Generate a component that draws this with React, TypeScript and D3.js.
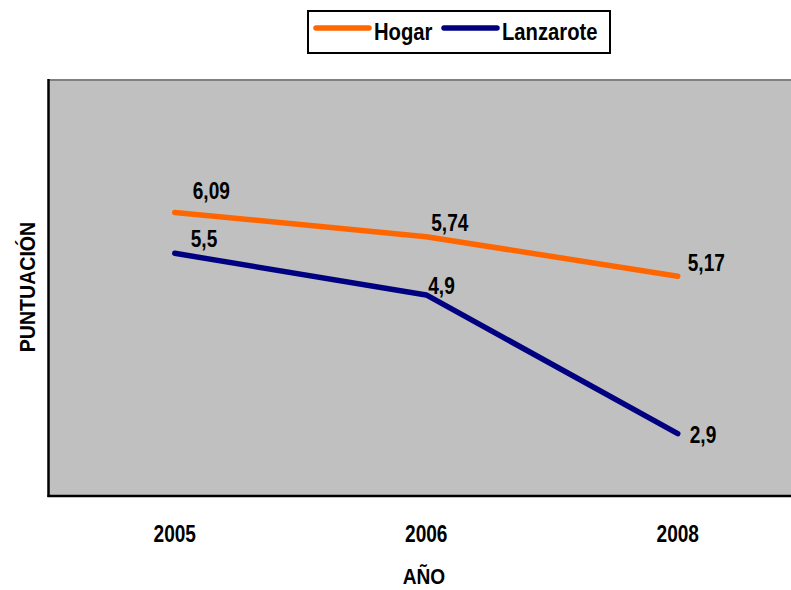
import React from 'react';
import * as d3 from 'd3';

const years = ['2005', '2006', '2008'];
const hogar = [6.09, 5.74, 5.17];
const lanzarote = [5.5, 4.9, 2.9];
const hogarLabels = ['6,09', '5,74', '5,17'];
const lanzaroteLabels = ['5,5', '4,9', '2,9'];
// small nudges of the value labels, as in the original
const hogarNudge = [[18, -13], [5, -6], [10, -5]];
const lanzaroteNudge = [[16, -6], [2, -1], [12, 9]];

const W = 791;
const H = 590;
const plot = { left: 49, top: 80, right: 803.5, bottom: 496 };
const font = '"Liberation Sans", Arial, sans-serif';

// condensed bold text (no narrow font installed, so squeeze it)
const NText = ({ x, y, size = 23, sx = 0.83, anchor = 'start', rotate = 0, children }: any) => (
  <text transform={`translate(${x},${y}) rotate(${rotate}) scale(${sx},1)`} textAnchor={anchor}
    fontFamily={font} fontWeight="bold" fontSize={size} fill="#000">{children}</text>
);

const App = () => {
  const x = d3.scaleBand().domain(years).range([plot.left, plot.right]).padding(0);
  const y = d3.scaleLinear().domain([2, 8]).range([plot.bottom, plot.top]);
  const cx = (d: string) => (x(d) as number) + x.bandwidth() / 2;

  const line = d3.line<number>()
    .x((d, i) => cx(years[i]))
    .y(d => y(d));

  const series = [
    { name: 'Hogar', values: hogar, labels: hogarLabels, nudge: hogarNudge, color: '#FF6600' },
    { name: 'Lanzarote', values: lanzarote, labels: lanzaroteLabels, nudge: lanzaroteNudge, color: '#000080' },
  ];

  return (
    <svg width={W} height={H} style={{ position: 'absolute', left: 0, top: 0 }}>
      <rect x={0} y={0} width={W} height={H} fill="#fff" />
      <rect x={plot.left} y={plot.top} width={plot.right - plot.left} height={plot.bottom - plot.top} fill="#C0C0C0" />
      <line x1={plot.left} x2={plot.right} y1={plot.top} y2={plot.top} stroke="#808080" strokeWidth={2} />
      <line x1={plot.left - 0.5} x2={plot.left - 0.5} y1={plot.top - 1} y2={plot.bottom + 1} stroke="#000" strokeWidth={2.5} />
      <line x1={plot.left - 1.5} x2={plot.right} y1={plot.bottom} y2={plot.bottom} stroke="#000" strokeWidth={2.5} />

      {series.map(s => (
        <g key={s.name}>
          <path d={line(s.values) || ''} fill="none" stroke={s.color} strokeWidth={5.5} strokeLinecap="round" strokeLinejoin="round" />
          {s.values.map((v, i) => (
            <NText key={i} x={cx(years[i]) + s.nudge[i][0]} y={y(v) + s.nudge[i][1]}>{s.labels[i]}</NText>
          ))}
        </g>
      ))}

      {years.map(d => (
        <NText key={d} x={cx(d)} y={542} anchor="middle">{d}</NText>
      ))}

      <NText x={424} y={584} size={22} sx={0.87} anchor="middle">AÑO</NText>
      <NText x={35} y={287} size={22} sx={0.89} rotate={-90} anchor="middle">PUNTUACIÓN</NText>

      <g>
        <rect x={308} y={11} width={302} height={42} fill="#fff" stroke="#000" strokeWidth={2} />
        {series.map((s, i) => {
          const x0 = i === 0 ? 316 : 444;
          return (
            <g key={s.name}>
              <line x1={x0} x2={x0 + 53} y1={28} y2={28} stroke={s.color} strokeWidth={5.5} strokeLinecap="round" />
              <NText x={x0 + 58} y={40} sx={0.88}>{s.name}</NText>
            </g>
          );
        })}
      </g>
    </svg>
  );
};

export default App;
